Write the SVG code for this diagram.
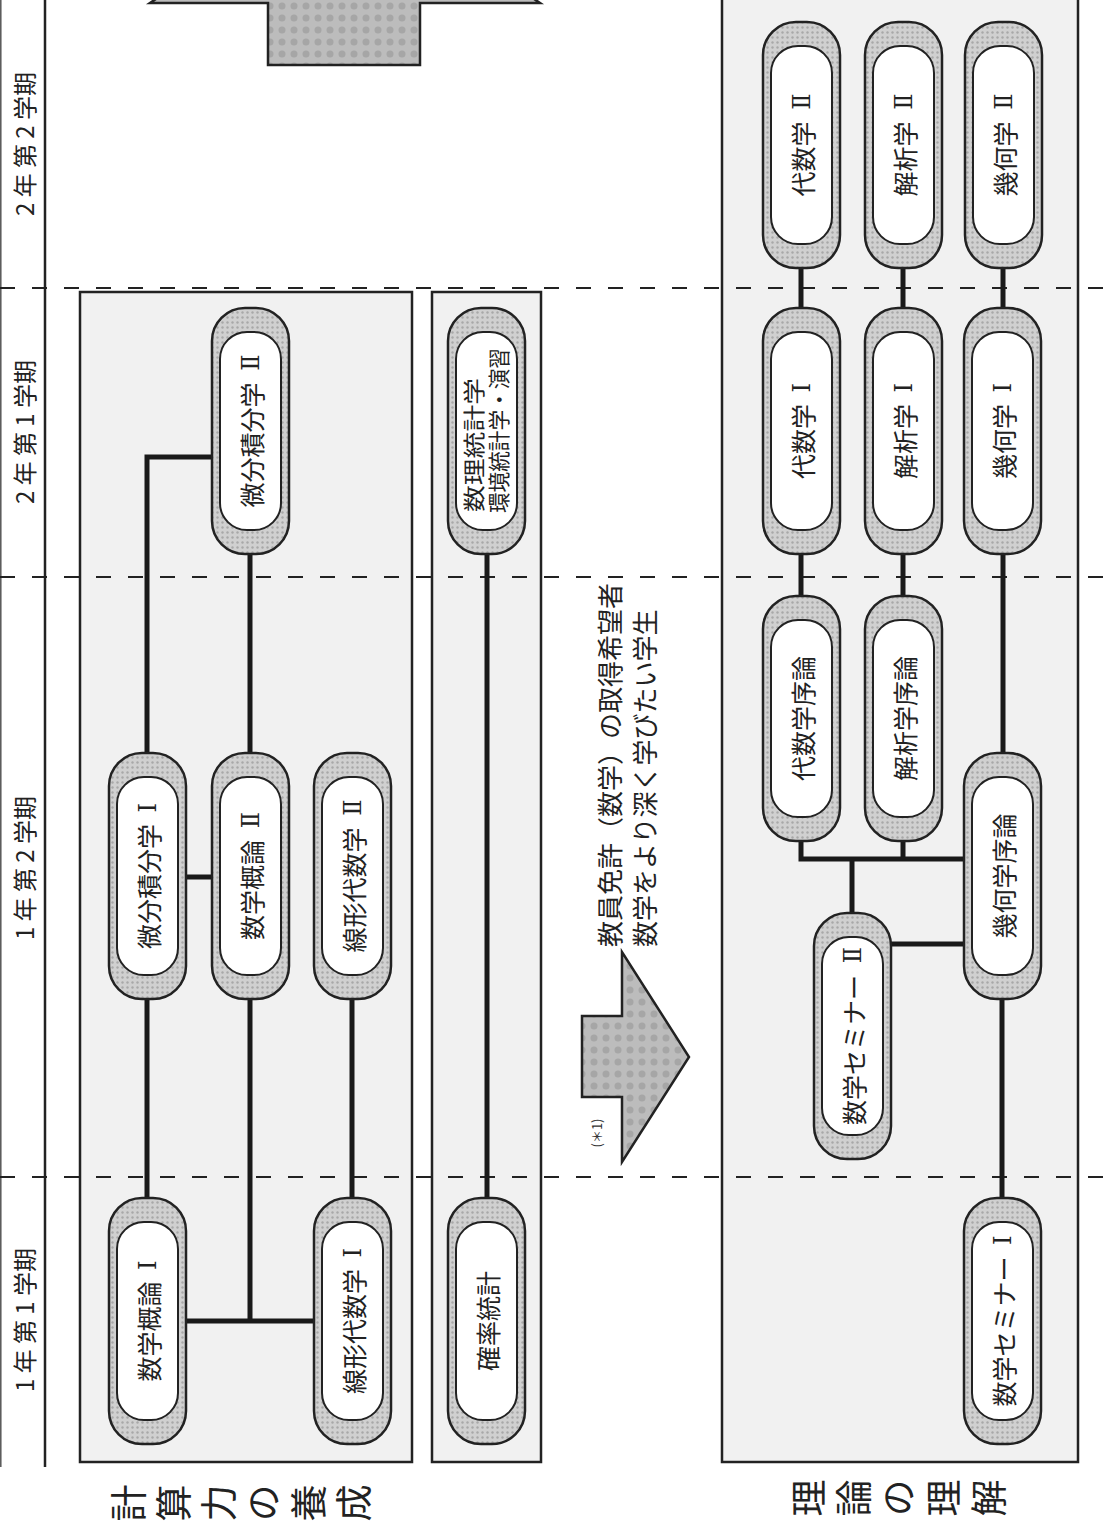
<svg xmlns="http://www.w3.org/2000/svg" width="1107" height="1530" viewBox="0 0 1107 1530">
<defs>
<pattern id="ringpat" width="5" height="5" patternUnits="userSpaceOnUse">
<rect width="5" height="5" fill="#d0d0d0"/>
<circle cx="2.5" cy="2.5" r="1.2" fill="#a8a8a8"/>
</pattern>
<pattern id="arrowpat" width="12" height="12" patternUnits="userSpaceOnUse">
<rect width="12" height="12" fill="#bcbcbc"/>
<circle cx="6" cy="6" r="3.5" fill="#a6a6a6"/>
</pattern>
</defs>
<style>
.box{fill:#f1f1f1;stroke:#222;stroke-width:2.5}
.outer{fill:url(#ringpat);stroke:#222;stroke-width:2.5}
.inner{fill:#fff;stroke:#222;stroke-width:2}
.conn{fill:none;stroke:#1a1a1a;stroke-width:5}
.dash{stroke:#222;stroke-width:2.2;stroke-dasharray:15 17}
.arrow{fill:url(#arrowpat);stroke:#222;stroke-width:2.5;stroke-linejoin:miter}
.lbl{font-family:"Noto Sans CJK JP","Noto Sans",sans-serif;font-size:25px;fill:#222;text-anchor:middle;dominant-baseline:central}
.rn{font-family:"DejaVu Serif","Liberation Serif",serif;font-size:24px}
.per{font-family:"Noto Sans CJK JP","Noto Sans",sans-serif;font-size:24px;fill:#222;text-anchor:middle;dominant-baseline:central}
.note{font-family:"Noto Sans CJK JP","Noto Sans",sans-serif;font-size:26px;fill:#222;text-anchor:start;dominant-baseline:central}
.sm{font-family:"Noto Sans CJK JP","Noto Sans",sans-serif;font-size:22px;fill:#222;dominant-baseline:central}
.big{font-family:"Noto Sans CJK JP","Noto Sans",sans-serif;font-size:37px;fill:#222;writing-mode:vertical-rl;letter-spacing:8px}
</style>
<rect width="1107" height="1530" fill="#fff"/>

<g id="period-column">
<line x1="0.8" y1="0" x2="0.8" y2="1467" stroke="#555" stroke-width="1.5"/>
<line x1="45" y1="0" x2="45" y2="1467" stroke="#222" stroke-width="2.5"/>
<text class="per" transform="translate(23,144) rotate(-90)">2 年 第 2 学期</text>
<text class="per" transform="translate(23,432) rotate(-90)">2 年 第 1 学期</text>
<text class="per" transform="translate(23,868) rotate(-90)">1 年 第 2 学期</text>
<text class="per" transform="translate(23,1320) rotate(-90)">1 年 第 1 学期</text>
</g>

<g id="groups">
<rect id="box-keisan" class="box" x="80" y="292" width="332" height="1170"/>
<rect id="box-toukei" class="box" x="432" y="292" width="109" height="1170"/>
<rect id="box-riron" class="box" x="722" y="-5" width="356" height="1467"/>
</g>

<g id="dashes">
<line class="dash" x1="0" y1="288" x2="1107" y2="288"/>
<line class="dash" x1="0" y1="577" x2="1107" y2="577"/>
<line class="dash" x1="0" y1="1177" x2="1107" y2="1177"/>
</g>

<g id="arrows">
<polygon class="arrow" points="268,65 420,65 420,3 540,3 345,-130 150,3 268,3"/>
<polygon class="arrow" points="582,1016 622,1016 622,952 689,1057 622,1162 622,1097 582,1097"/>
</g>

<g id="connectors">
<path class="conn" d="M186,1321 H314 M250,1321 V999 M147,1198 V999 M352,1198 V999 M186,877 H212 M147,753 V457 H212 M250,753 V554"/>
<path class="conn" d="M487,554 V1198"/>
<path class="conn" d="M1002,1198 V999 M890,944 H964 M852,913 V859 M801,841 V859 H964 M903,841 V859 M801,268 V308 M801,554 V596 M903,268 V308 M903,554 V596 M1003,268 V308 M1003,554 V753"/>
</g>

<g id="n-suugakugairon1"><rect class="outer" x="109" y="1198" width="77" height="246" rx="33"/><rect class="inner" x="117" y="1222" width="61" height="198" rx="27"/><text class="lbl" transform="translate(147.5,1321) rotate(-90)">数学概論 <tspan class="rn" dx="6">Ⅰ</tspan></text></g>
<g id="n-senkei1"><rect class="outer" x="314" y="1198" width="77" height="246" rx="33"/><rect class="inner" x="322" y="1222" width="61" height="198" rx="27"/><text class="lbl" transform="translate(352.5,1321) rotate(-90)">線形代数学 <tspan class="rn" dx="6">Ⅰ</tspan></text></g>
<g id="n-bibun1"><rect class="outer" x="109" y="753" width="77" height="246" rx="33"/><rect class="inner" x="117" y="777" width="61" height="198" rx="27"/><text class="lbl" transform="translate(147.5,876) rotate(-90)">微分積分学 <tspan class="rn" dx="6">Ⅰ</tspan></text></g>
<g id="n-suugakugairon2"><rect class="outer" x="212" y="753" width="77" height="246" rx="33"/><rect class="inner" x="220" y="777" width="61" height="198" rx="27"/><text class="lbl" transform="translate(250.5,876) rotate(-90)">数学概論 <tspan class="rn" dx="6">Ⅱ</tspan></text></g>
<g id="n-senkei2"><rect class="outer" x="314" y="753" width="77" height="246" rx="33"/><rect class="inner" x="322" y="777" width="61" height="198" rx="27"/><text class="lbl" transform="translate(352.5,876) rotate(-90)">線形代数学 <tspan class="rn" dx="6">Ⅱ</tspan></text></g>
<g id="n-bibun2"><rect class="outer" x="212" y="308" width="77" height="246" rx="33"/><rect class="inner" x="220" y="332" width="61" height="198" rx="27"/><text class="lbl" transform="translate(250.5,431) rotate(-90)">微分積分学 <tspan class="rn" dx="6">Ⅱ</tspan></text></g>

<g id="n-suuritoukei"><rect class="outer" x="448" y="308" width="77" height="246" rx="33"/><rect class="inner" x="456" y="332" width="61" height="198" rx="27"/>
<text class="sm" transform="translate(472,512) rotate(-90)" textLength="134" lengthAdjust="spacingAndGlyphs">数理統計学</text>
<text class="sm" transform="translate(497,513) rotate(-90)" textLength="165" lengthAdjust="spacingAndGlyphs">環境統計学・演習</text>
</g>
<g id="n-kakuritsu"><rect class="outer" x="448" y="1198" width="77" height="246" rx="33"/><rect class="inner" x="456" y="1222" width="61" height="198" rx="27"/><text class="lbl" transform="translate(486.5,1321) rotate(-90)">確率統計</text></g>

<g id="n-seminar1"><rect class="outer" x="964" y="1198" width="77" height="246" rx="33"/><rect class="inner" x="972" y="1222" width="61" height="198" rx="27"/><text class="lbl" transform="translate(1002.5,1321) rotate(-90)">数学セミナー <tspan class="rn" dx="6">Ⅰ</tspan></text></g>
<g id="n-kikajoron"><rect class="outer" x="964" y="753" width="77" height="246" rx="33"/><rect class="inner" x="972" y="777" width="61" height="198" rx="27"/><text class="lbl" transform="translate(1002.5,876) rotate(-90)">幾何学序論</text></g>
<g id="n-seminar2"><rect class="outer" x="814" y="913" width="77" height="246" rx="33"/><rect class="inner" x="822" y="937" width="61" height="198" rx="27"/><text class="lbl" transform="translate(852.5,1036) rotate(-90)">数学セミナー <tspan class="rn" dx="6">Ⅱ</tspan></text></g>
<g id="n-daisuujoron"><rect class="outer" x="763" y="596" width="77" height="245" rx="33"/><rect class="inner" x="771" y="620" width="61" height="197" rx="27"/><text class="lbl" transform="translate(801.5,718.5) rotate(-90)">代数学序論</text></g>
<g id="n-kaisekijoron"><rect class="outer" x="865" y="596" width="77" height="245" rx="33"/><rect class="inner" x="873" y="620" width="61" height="197" rx="27"/><text class="lbl" transform="translate(903.5,718.5) rotate(-90)">解析学序論</text></g>
<g id="n-daisuu1"><rect class="outer" x="763" y="308" width="77" height="246" rx="33"/><rect class="inner" x="771" y="332" width="61" height="198" rx="27"/><text class="lbl" transform="translate(801.5,431) rotate(-90)">代数学 <tspan class="rn" dx="6">Ⅰ</tspan></text></g>
<g id="n-kaiseki1"><rect class="outer" x="865" y="308" width="77" height="246" rx="33"/><rect class="inner" x="873" y="332" width="61" height="198" rx="27"/><text class="lbl" transform="translate(903.5,431) rotate(-90)">解析学 <tspan class="rn" dx="6">Ⅰ</tspan></text></g>
<g id="n-kika1"><rect class="outer" x="964" y="308" width="77" height="246" rx="33"/><rect class="inner" x="972" y="332" width="61" height="198" rx="27"/><text class="lbl" transform="translate(1002.5,431) rotate(-90)">幾何学 <tspan class="rn" dx="6">Ⅰ</tspan></text></g>
<g id="n-daisuu2"><rect class="outer" x="763" y="22" width="77" height="246" rx="33"/><rect class="inner" x="771" y="46" width="61" height="198" rx="27"/><text class="lbl" transform="translate(801.5,145) rotate(-90)">代数学 <tspan class="rn" dx="6">Ⅱ</tspan></text></g>
<g id="n-kaiseki2"><rect class="outer" x="865" y="22" width="77" height="246" rx="33"/><rect class="inner" x="873" y="46" width="61" height="198" rx="27"/><text class="lbl" transform="translate(903.5,145) rotate(-90)">解析学 <tspan class="rn" dx="6">Ⅱ</tspan></text></g>
<g id="n-kika2"><rect class="outer" x="965" y="22" width="77" height="246" rx="33"/><rect class="inner" x="973" y="46" width="61" height="198" rx="27"/><text class="lbl" transform="translate(1003.5,145) rotate(-90)">幾何学 <tspan class="rn" dx="6">Ⅱ</tspan></text></g>

<g id="notes">
<text class="note" transform="translate(608,947) rotate(-90)">教員免許（数学）の取得希望者</text>
<text class="note" transform="translate(643,947) rotate(-90)">数学をより深く学びたい学生</text>
<text style="font-family:'Noto Sans CJK JP',sans-serif;font-size:13px;fill:#333;text-anchor:middle;dominant-baseline:central" transform="translate(596,1133) rotate(-90)">(＊1)</text>
</g>

<g id="titles">
<text class="big" transform="translate(110,1503) rotate(-90)">計算力の養成</text>
<text class="big" transform="translate(790,1498) rotate(-90)">理論の理解</text>
</g>
</svg>
